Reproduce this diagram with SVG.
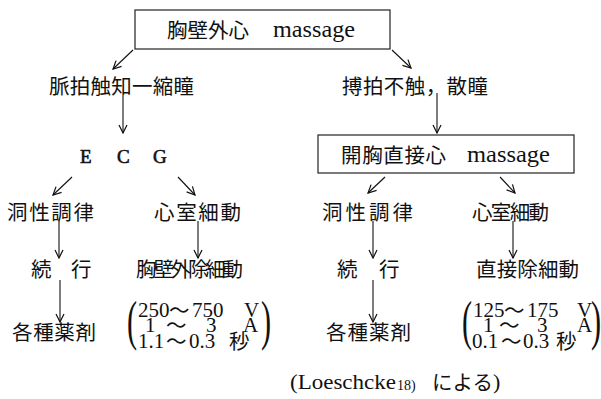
<svg xmlns="http://www.w3.org/2000/svg" width="601" height="399" viewBox="0 0 601 399">
<style>
.j{font-family:"Noto Sans CJK JP","Noto Sans CJK SC",sans-serif;font-size:20.5px;fill:#111}
.s{font-family:"Liberation Serif",serif;font-size:21px;fill:#111}
.m{font-family:"Liberation Serif",serif;font-size:23px;fill:#111}
.e{font-family:"Liberation Serif",serif;font-size:19px;fill:#111;stroke:#111;stroke-width:0.6}
.p{font-family:"Liberation Serif",serif;font-size:55px;fill:#111}
.box{fill:none;stroke:#222;stroke-width:1.2}
.c line{stroke:#111;stroke-width:1.1;marker-end:url(#ah)}
</style>
<defs>
<marker id="ah" viewBox="-9 -5 10 10" refX="0" refY="0" markerWidth="10" markerHeight="10" markerUnits="userSpaceOnUse" orient="auto">
<path d="M-8,-4 L0,0 L-8,4" fill="none" stroke="#111" stroke-width="1.2"/>
</marker>
</defs>
<rect width="601" height="399" fill="#fff"/>
<g id="n-top">
<rect class="box" x="135" y="10" width="255" height="39"/>
<text class="j" x="167" y="38" textLength="82" lengthAdjust="spacing">胸壁外心</text>
<text class="m" x="273" y="37" textLength="82" lengthAdjust="spacingAndGlyphs">massage</text>
</g>
<g id="n-pulse">
<text class="j" x="49" y="93.5" textLength="145" lengthAdjust="spacing">脈拍触知一縮瞳</text>
</g>
<g id="n-nopulse">
<text class="j" x="342" y="93.5" textLength="146" lengthAdjust="spacing">搏拍不触，散瞳</text>
</g>
<g id="n-ecg">
<text class="e" x="80" y="163">E</text>
<text class="e" x="117" y="163">C</text>
<text class="e" x="153" y="163">G</text>
</g>
<g id="n-open">
<rect class="box" x="318" y="135" width="256" height="38"/>
<text class="j" x="341" y="163" textLength="105" lengthAdjust="spacing">開胸直接心</text>
<text class="m" x="467" y="162" textLength="83" lengthAdjust="spacingAndGlyphs">massage</text>
</g>
<g id="n-sinus-l"><text class="j" x="7" y="219.5" textLength="87" lengthAdjust="spacing">洞性調律</text></g>
<g id="n-vf-l"><text class="j" x="154" y="219.5" textLength="87" lengthAdjust="spacing">心室細動</text></g>
<g id="n-sinus-r"><text class="j" x="322" y="219.5" textLength="91" lengthAdjust="spacing">洞性調律</text></g>
<g id="n-vf-r"><text class="j" x="472" y="219.5" textLength="77" lengthAdjust="spacing">心室細動</text></g>
<g id="n-cont-l"><text class="j" x="31" y="276.5">続</text><text class="j" x="71" y="276.5">行</text></g>
<g id="n-cont-r"><text class="j" x="337" y="276.5">続</text><text class="j" x="379" y="276.5">行</text></g>
<g id="n-defib-ext"><text class="j" x="136" y="276.5" textLength="107" lengthAdjust="spacing">胸壁外除細動</text></g>
<g id="n-defib-dir"><text class="j" x="476" y="276.5" textLength="103" lengthAdjust="spacing">直接除細動</text></g>
<g id="n-drug-l"><text class="j" x="12" y="339.5" textLength="84" lengthAdjust="spacing">各種薬剤</text></g>
<g id="n-drug-r"><text class="j" x="326" y="339.5" textLength="85" lengthAdjust="spacing">各種薬剤</text></g>
<g id="n-param-l">
<text class="p" transform="translate(127,339) scale(0.55,1)">(</text>
<text class="p" transform="translate(261,339) scale(0.55,1)">)</text>
<text class="s" x="138" y="317">250</text><text class="j" x="169" y="318">〜</text><text class="s" x="192" y="317">750</text><text class="s" x="244" y="317">V</text>
<text class="s" x="145" y="332">1</text><text class="j" x="166" y="333">〜</text><text class="s" x="206" y="332">3</text><text class="s" x="243" y="332">A</text>
<text class="s" x="138" y="348">1.1</text><text class="j" x="166" y="349">〜</text><text class="s" x="189" y="348">0.3</text><text class="j" x="229" y="349">秒</text>
</g>
<g id="n-param-r">
<text class="p" transform="translate(462,339) scale(0.55,1)">(</text>
<text class="p" transform="translate(591,339) scale(0.55,1)">)</text>
<text class="s" x="473" y="317">125</text><text class="j" x="504" y="318">〜</text><text class="s" x="527" y="317">175</text><text class="s" x="577" y="317">V</text>
<text class="s" x="483" y="332">1</text><text class="j" x="499" y="333">〜</text><text class="s" x="537" y="332">3</text><text class="s" x="577" y="332">A</text>
<text class="s" x="472" y="348">0.1</text><text class="j" x="501" y="349">〜</text><text class="s" x="523" y="348">0.3</text><text class="j" x="556" y="349">秒</text>
</g>
<g id="n-source">
<text class="s" x="290" y="389" style="font-size:22px" textLength="106" lengthAdjust="spacingAndGlyphs">(Loeschcke</text>
<text class="s" x="397" y="390" style="font-size:14px">18)</text>
<text class="j" x="432" y="390">による</text>
<text class="s" x="493" y="389" style="font-size:22px">)</text>
</g>
<g id="connectors" class="c">
<line x1="133" y1="50" x2="113" y2="69"/>
<line x1="392" y1="50" x2="411" y2="68"/>
<line x1="123" y1="95" x2="123" y2="133"/>
<line x1="437" y1="93" x2="437" y2="133"/>
<line x1="72" y1="177" x2="53" y2="195"/>
<line x1="178" y1="177" x2="195" y2="195"/>
<line x1="385" y1="177" x2="368" y2="193"/>
<line x1="500" y1="177" x2="515" y2="193"/>
<line x1="59" y1="221" x2="59" y2="258"/>
<line x1="198" y1="221" x2="198" y2="258"/>
<line x1="373" y1="221" x2="373" y2="258"/>
<line x1="513" y1="221" x2="513" y2="258"/>
<line x1="60" y1="280" x2="60" y2="322"/>
<line x1="373" y1="280" x2="373" y2="322"/>
</g>
</svg>
